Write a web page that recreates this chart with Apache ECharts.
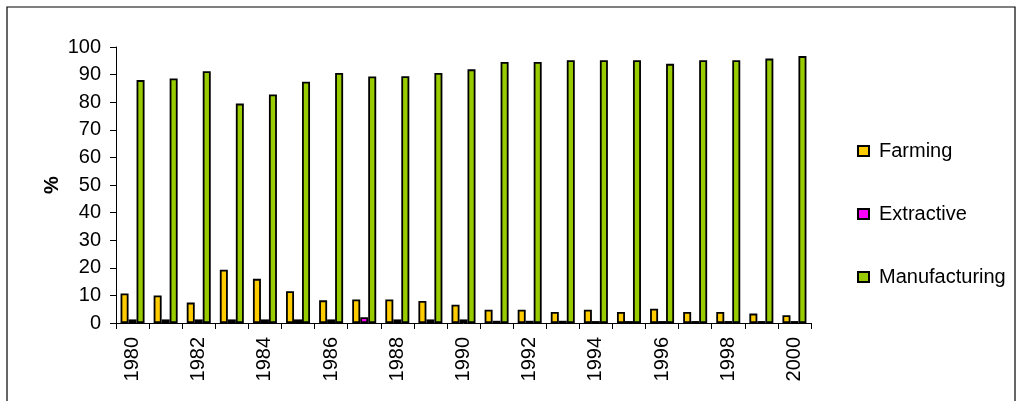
<!DOCTYPE html>
<html>
<head>
<meta charset="utf-8">
<script src="https://cdn.jsdelivr.net/npm/echarts@6/dist/echarts.min.js"></script>
<style>
  html, body { margin: 0; padding: 0; background: #ffffff; }
  #chart { width: 1016px; height: 401px; }
</style>
</head>
<body>
<div id="chart"></div>
<script>
// Share of output by sector, 1980-2000 (%)
const years = ['1980','1981','1982','1983','1984','1985','1986','1987','1988','1989','1990',
               '1991','1992','1993','1994','1995','1996','1997','1998','1999','2000'];
const farming = [10.7, 10.0, 7.4, 19.3, 16.0, 11.5, 8.2, 8.5, 8.5, 8.0, 6.6,
                 4.8, 4.8, 4.0, 4.8, 4.0, 5.2, 4.0, 4.0, 3.4, 2.8];
const extractive = [1.3, 1.3, 1.3, 1.3, 1.3, 1.3, 1.3, 2.1, 1.3, 1.3, 1.3,
                    0.8, 0.8, 0.8, 0.7, 0.7, 0.7, 0.7, 0.7, 0.7, 0.7];
const manufacturing = [88.0, 88.6, 91.2, 79.5, 82.8, 87.4, 90.6, 89.3, 89.4, 90.6, 91.9,
                       94.6, 94.6, 95.2, 95.2, 95.2, 93.9, 95.2, 95.2, 95.8, 96.7];
const yTicks = { min: 0, max: 100, step: 10 };

const FONT = '"Liberation Sans", Arial, sans-serif';

const chart = echarts.init(document.getElementById('chart'), null, { renderer: 'canvas' });

function barSeries(name, data, color) {
  return {
    name: name,
    type: 'bar',
    data: data,
    barWidth: 8,
    barGap: '0%',
    itemStyle: { color: color, borderColor: '#000000', borderWidth: 1.8 },
    emphasis: { disabled: true }
  };
}

chart.setOption({
  animation: false,
  backgroundColor: '#ffffff',
  textStyle: { fontFamily: FONT },
  graphic: [{
    type: 'rect',
    shape: { x: 7, y: 7, width: 1008, height: 400 },
    style: { fill: 'none', stroke: '#000000', lineWidth: 1.2 },
    silent: true,
    z: -1
  }],
  grid: { left: 116, top: 47, right: 205, bottom: 78, containLabel: false },
  legend: {
    orient: 'vertical',
    left: 857,
    top: 141,
    padding: 0,
    itemWidth: 11,
    itemHeight: 10,
    itemGap: 43,
    icon: 'rect',
    selectedMode: false,
    textStyle: { fontSize: 20, color: '#000000', fontFamily: FONT, padding: [0, 0, 0, 5] },
    data: ['Farming', 'Extractive', 'Manufacturing']
  },
  xAxis: {
    type: 'category',
    data: years,
    boundaryGap: true,
    axisLine: { lineStyle: { color: '#000000', width: 1 } },
    axisTick: { show: true, interval: 0, length: 6, alignWithLabel: false, lineStyle: { color: '#000000' } },
    axisLabel: {
      interval: 1,
      rotate: 90,
      margin: 14,
      fontSize: 20,
      color: '#000000',
      fontFamily: FONT
    },
    splitLine: { show: false }
  },
  yAxis: {
    type: 'value',
    min: yTicks.min,
    max: yTicks.max,
    interval: yTicks.step,
    name: '%',
    nameLocation: 'middle',
    nameRotate: 90,
    nameGap: 54,
    nameMoveOverlap: false,
    nameTextStyle: { fontSize: 20, fontWeight: 'bold', color: '#000000', fontFamily: FONT },
    axisLine: { show: true, lineStyle: { color: '#000000', width: 1 } },
    axisTick: { show: true, length: 6, lineStyle: { color: '#000000' } },
    axisLabel: { fontSize: 20, color: '#000000', margin: 15, fontFamily: FONT },
    splitLine: { show: false }
  },
  series: [
    barSeries('Farming', farming, '#FFCC00'),
    barSeries('Extractive', extractive, '#FF00FF'),
    barSeries('Manufacturing', manufacturing, '#99CC00')
  ]
});
</script>
</body>
</html>
